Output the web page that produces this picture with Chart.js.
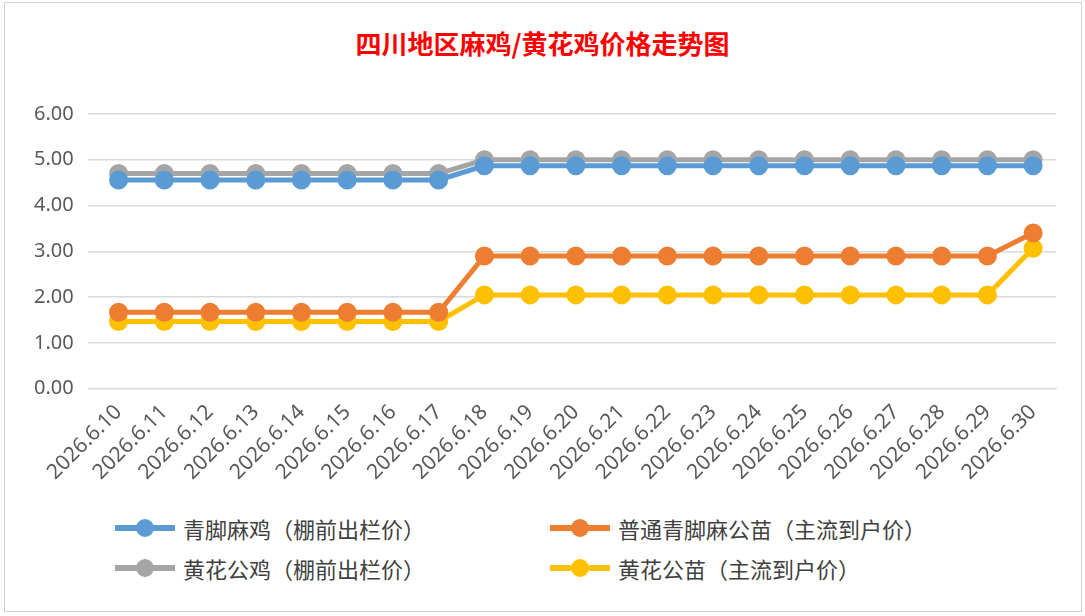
<!DOCTYPE html>
<html>
<head>
<meta charset="utf-8">
<script src="https://cdn.jsdelivr.net/npm/chart.js@4"></script>
<style>
  body { margin: 0; background: #fff; font-family: "Noto Sans CJK SC", sans-serif; }
  #frame { position: absolute; left: 4px; top: 2px; width: 1076px; height: 608px; border: 1px solid #d0d0d0; }
  #title { position: absolute; left: 0; top: 24px; width: 1085px; text-align: center; color: #ff0000; font-size: 26px; font-weight: bold; }
  #wrap { position: absolute; left: 20px; top: 88px; width: 1050px; height: 400px; }
  #legend { position: absolute; left: 115px; top: 512px; width: 900px; font-size: 22px; color: #404040; }
  .item { position: absolute; display: flex; align-items: center; }
  .sw { position: relative; width: 60px; height: 6px; margin-right: 8px; }
  .sw span { position: absolute; left: 21px; top: -6px; width: 18px; height: 18px; border-radius: 50%; }
</style>
</head>
<body>
<div id="frame"></div>
<div id="title">四川地区麻鸡/黄花鸡价格走势图</div>
<div id="wrap"><canvas id="chart"></canvas></div>
<div id="legend"></div>
<script>
const dates = ['2026.6.10','2026.6.11','2026.6.12','2026.6.13','2026.6.14','2026.6.15','2026.6.16','2026.6.17','2026.6.18','2026.6.19','2026.6.20','2026.6.21','2026.6.22','2026.6.23','2026.6.24','2026.6.25','2026.6.26','2026.6.27','2026.6.28','2026.6.29','2026.6.30'];
const names = ['青脚麻鸡（棚前出栏价）','普通青脚麻公苗（主流到户价）','黄花公鸡（棚前出栏价）','黄花公苗（主流到户价）'];
const colors = ['#5b9bd5','#ed7d31','#a5a5a5','#ffc000'];
const qingjiao = [4.56,4.56,4.56,4.56,4.56,4.56,4.56,4.56,4.87,4.87,4.87,4.87,4.87,4.87,4.87,4.87,4.87,4.87,4.87,4.87,4.87];
const miaoQingjiao = [1.67,1.67,1.67,1.67,1.67,1.67,1.67,1.67,2.9,2.9,2.9,2.9,2.9,2.9,2.9,2.9,2.9,2.9,2.9,2.9,3.4];
const huanghua = [4.7,4.7,4.7,4.7,4.7,4.7,4.7,4.7,5.0,5.0,5.0,5.0,5.0,5.0,5.0,5.0,5.0,5.0,5.0,5.0,5.0];
const miaoHuanghua = [1.47,1.47,1.47,1.47,1.47,1.47,1.47,1.47,2.05,2.05,2.05,2.05,2.05,2.05,2.05,2.05,2.05,2.05,2.05,2.05,3.07];
const series = [qingjiao, miaoQingjiao, huanghua, miaoHuanghua];
// draw order: later datasets on top, as in the reference
const order = [0, 2, 1, 3];

const datasets = order.map(i => ({
  label: names[i],
  data: series[i],
  borderColor: colors[i],
  backgroundColor: colors[i],
  borderWidth: 5,
  pointRadius: 7,
  pointHoverRadius: 7,
  tension: 0
}));

new Chart(document.getElementById('chart'), {
  type: 'line',
  data: { labels: dates, datasets: datasets },
  options: {
    responsive: true,
    maintainAspectRatio: false,
    animation: false,
    layout: { padding: { right: 14 } },
    plugins: { legend: { display: false }, tooltip: { enabled: false } },
    scales: {
      x: {
        offset: true,
        grid: { display: false },
        border: { color: '#d9d9d9' },
        ticks: { color: '#595959', font: { size: 21, family: 'Noto Sans' }, maxRotation: 45, minRotation: 45, autoSkip: false }
      },
      y: {
        min: 0, max: 6,
        grid: { color: '#d9d9d9', lineWidth: 1.5 },
        border: { display: false },
        ticks: { stepSize: 1, color: '#595959', font: { size: 20, family: 'Noto Sans' }, callback: v => v.toFixed(2), padding: 14 }
      }
    }
  }
});

const legend = document.getElementById('legend');
const pos = [[0,0],[435,0],[0,40],[435,40]];
names.forEach((n, i) => {
  const d = document.createElement('div');
  d.className = 'item';
  d.style.left = pos[i][0] + 'px';
  d.style.top = pos[i][1] + 'px';
  d.innerHTML = '<div class="sw" style="background:' + colors[i] + '"><span style="background:' + colors[i] + '"></span></div>' + n;
  legend.appendChild(d);
});
</script>
</body>
</html>
